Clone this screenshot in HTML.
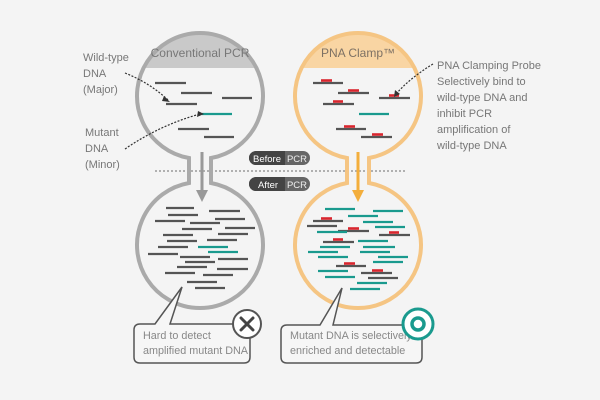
<!DOCTYPE html>
<html><head><meta charset="utf-8"><style>
html,body{margin:0;padding:0;background:#f4f4f4;}
svg{display:block;font-family:"Liberation Sans",sans-serif;}
</style></head><body>
<svg width="600" height="400" viewBox="0 0 600 400" xmlns="http://www.w3.org/2000/svg">
<rect width="600" height="400" fill="#f4f4f4"/>
<defs>
<clipPath id="cl"><circle cx="200" cy="96" r="63"/></clipPath>
<clipPath id="cr"><circle cx="358" cy="96" r="63"/></clipPath>
</defs>
<line x1="155" y1="171" x2="405" y2="171" stroke="#888" stroke-width="1.3" stroke-dasharray="2,2"/>
<circle cx="200" cy="96" r="63" fill="#f4f4f4"/>
<rect x="130" y="30" width="140" height="38" fill="#c9c9c9" clip-path="url(#cl)"/>
<path d="M189 158 A63 63 0 1 1 211 158 L211 183 A63 63 0 1 1 189 183 Z" fill="none" stroke="#aaa" stroke-width="4"/>
<text x="200" y="57" font-size="12" fill="#777" text-anchor="middle">Conventional PCR</text>
<circle cx="358" cy="96" r="63" fill="#f4f4f4"/>
<rect x="290" y="30" width="140" height="38" fill="#f9d5a3" clip-path="url(#cr)"/>
<path d="M347 158 A63 63 0 1 1 369 158 L369 183 A63 63 0 1 1 347 183 Z" fill="none" stroke="#f5c583" stroke-width="4"/>
<text x="358" y="57" font-size="12" fill="#7d7164" text-anchor="middle">PNA Clamp™</text>
<line x1="202" y1="152" x2="202" y2="192" stroke="#999" stroke-width="3"/>
<path d="M196 190 L208 190 L202 202 Z" fill="#999"/>
<line x1="358" y1="152" x2="358" y2="192" stroke="#f3ae3c" stroke-width="3"/>
<path d="M352 190 L364 190 L358 202 Z" fill="#f3ae3c"/>
<rect x="249" y="151" width="61" height="14" rx="7" fill="#666"/>
<path d="M256 151 H285 V165 H256 A7 7 0 0 1 256 151 Z" fill="#444"/>
<text x="267" y="162" font-size="9.5" fill="#fff" text-anchor="middle">Before</text>
<text x="297" y="162" font-size="9.5" fill="#eee" text-anchor="middle">PCR</text>
<rect x="249" y="177" width="61" height="14" rx="7" fill="#666"/>
<path d="M256 177 H285 V191 H256 A7 7 0 0 1 256 177 Z" fill="#444"/>
<text x="268" y="188" font-size="9.5" fill="#fff" text-anchor="middle">After</text>
<text x="297" y="188" font-size="9.5" fill="#eee" text-anchor="middle">PCR</text>
<g stroke-width="2.2" stroke-linecap="butt">
<g stroke="#555">
<line x1="155" y1="83" x2="186" y2="83"/><line x1="181" y1="93" x2="212" y2="93"/><line x1="222" y1="98" x2="252" y2="98"/><line x1="166" y1="104" x2="197" y2="104"/><line x1="178" y1="129" x2="209" y2="129"/><line x1="204" y1="137" x2="234" y2="137"/>
<line x1="313" y1="83" x2="343" y2="83"/><line x1="338" y1="93" x2="369" y2="93"/><line x1="379" y1="98" x2="410" y2="98"/><line x1="323" y1="104" x2="354" y2="104"/><line x1="336" y1="129" x2="366" y2="129"/><line x1="361" y1="137" x2="392" y2="137"/>
<line x1="166" y1="208" x2="194" y2="208"/><line x1="209" y1="211" x2="240" y2="211"/><line x1="168" y1="215" x2="198" y2="215"/><line x1="155" y1="221" x2="185" y2="221"/><line x1="215" y1="219" x2="245" y2="219"/><line x1="190" y1="223" x2="220" y2="223"/><line x1="182" y1="229" x2="212" y2="229"/><line x1="225" y1="228" x2="255" y2="228"/><line x1="163" y1="235" x2="193" y2="235"/><line x1="218" y1="234" x2="248" y2="234"/><line x1="167" y1="241" x2="197" y2="241"/><line x1="207" y1="240" x2="237" y2="240"/><line x1="158" y1="247" x2="188" y2="247"/><line x1="148" y1="254" x2="178" y2="254"/><line x1="180" y1="257" x2="210" y2="257"/><line x1="218" y1="259" x2="248" y2="259"/><line x1="185" y1="262" x2="215" y2="262"/><line x1="177" y1="267" x2="207" y2="267"/><line x1="217" y1="269" x2="248" y2="269"/><line x1="165" y1="273" x2="195" y2="273"/><line x1="203" y1="275" x2="233" y2="275"/><line x1="187" y1="282" x2="217" y2="282"/><line x1="195" y1="288" x2="225" y2="288"/>
<line x1="313" y1="221" x2="343" y2="221"/><line x1="307" y1="226" x2="337" y2="226"/><line x1="338" y1="231" x2="369" y2="231"/><line x1="379" y1="235" x2="410" y2="235"/><line x1="323" y1="242" x2="354" y2="242"/><line x1="336" y1="266" x2="366" y2="266"/><line x1="361" y1="273" x2="392" y2="273"/><line x1="368" y1="278" x2="398" y2="278"/>
</g>
<g stroke="#1a9a8e">
<line x1="202" y1="114" x2="232" y2="114"/><line x1="359" y1="114" x2="389" y2="114"/>
<line x1="198" y1="247" x2="228" y2="247"/><line x1="208" y1="252" x2="238" y2="252"/>
<line x1="325" y1="209" x2="355" y2="209"/><line x1="373" y1="211" x2="403" y2="211"/><line x1="348" y1="216" x2="378" y2="216"/><line x1="363" y1="222" x2="393" y2="222"/><line x1="375" y1="227" x2="405" y2="227"/><line x1="317" y1="232" x2="347" y2="232"/><line x1="358" y1="241" x2="388" y2="241"/><line x1="320" y1="247" x2="350" y2="247"/><line x1="363" y1="247" x2="395" y2="247"/><line x1="308" y1="252" x2="338" y2="252"/><line x1="360" y1="252" x2="390" y2="252"/><line x1="318" y1="257" x2="348" y2="257"/><line x1="378" y1="257" x2="408" y2="257"/><line x1="373" y1="262" x2="403" y2="262"/><line x1="318" y1="271" x2="348" y2="271"/><line x1="325" y1="277" x2="355" y2="277"/><line x1="357" y1="283" x2="387" y2="283"/><line x1="350" y1="289" x2="380" y2="289"/>
</g>
<g stroke="#d9262e" stroke-width="2.6">
<line x1="321" y1="80.5" x2="332" y2="80.5"/><line x1="348" y1="90.5" x2="359" y2="90.5"/><line x1="389" y1="95.5" x2="399" y2="95.5"/><line x1="333" y1="101.5" x2="343" y2="101.5"/><line x1="344" y1="126.5" x2="355" y2="126.5"/><line x1="372" y1="134.5" x2="383" y2="134.5"/>
<line x1="321" y1="218.5" x2="332" y2="218.5"/><line x1="348" y1="228.5" x2="359" y2="228.5"/><line x1="389" y1="232.5" x2="399" y2="232.5"/><line x1="333" y1="239.5" x2="343" y2="239.5"/><line x1="344" y1="263.5" x2="355" y2="263.5"/><line x1="372" y1="270.5" x2="383" y2="270.5"/>
</g>
</g>
<g font-size="11" fill="#777">
<text x="83" y="61">Wild-type</text><text x="83" y="77">DNA</text><text x="83" y="93">(Major)</text>
<text x="85" y="136">Mutant</text><text x="85" y="152">DNA</text><text x="85" y="168">(Minor)</text>
<text x="437" y="69">PNA Clamping Probe</text><text x="437" y="85">Selectively bind to</text><text x="437" y="101">wild-type DNA and</text><text x="437" y="117">inhibit PCR</text><text x="437" y="133">amplification of</text><text x="437" y="149">wild-type DNA</text>
</g>
<g stroke="#333" stroke-width="1.2" stroke-dasharray="2,1.5" fill="none">
<path d="M125 73 Q150 83 168 100"/>
<path d="M125 149 Q160 125 200 114"/>
<path d="M433 64 Q410 78 396 94"/>
</g>
<path d="M164 96 L170 102 L162 101 Z" fill="#333"/>
<path d="M198 111 L204 114 L197 117 Z" fill="#333"/>
<path d="M395 90 L394 97 L400 94 Z" fill="#333"/>
<path d="M140 324 H155 L182 287 L170 324 H244 Q250 324 250 330 V357 Q250 363 244 363 H140 Q134 363 134 357 V330 Q134 324 140 324 Z" fill="#f6f6f6" stroke="#555" stroke-width="1.5"/>
<text x="143" y="339" font-size="10.8" fill="#888">Hard to detect</text>
<text x="143" y="354" font-size="10.8" fill="#888">amplified mutant DNA</text>
<circle cx="247" cy="324" r="14" fill="#fff" stroke="#555" stroke-width="2"/>
<path d="M241 318 L253 330 M253 318 L241 330" stroke="#444" stroke-width="3" stroke-linecap="round"/>
<path d="M287 325 H320 L342 288 L333 325 H416 Q422 325 422 331 V357 Q422 363 416 363 H287 Q281 363 281 357 V331 Q281 325 287 325 Z" fill="#f6f6f6" stroke="#555" stroke-width="1.5"/>
<text x="290" y="339" font-size="10.8" fill="#888">Mutant DNA is selectively</text>
<text x="290" y="354" font-size="10.8" fill="#888">enriched and detectable</text>
<circle cx="418" cy="324" r="15" fill="#fff" stroke="#1a9a8e" stroke-width="3"/>
<circle cx="418" cy="324" r="6" fill="none" stroke="#1a9a8e" stroke-width="3.5"/>
</svg>
</body></html>
